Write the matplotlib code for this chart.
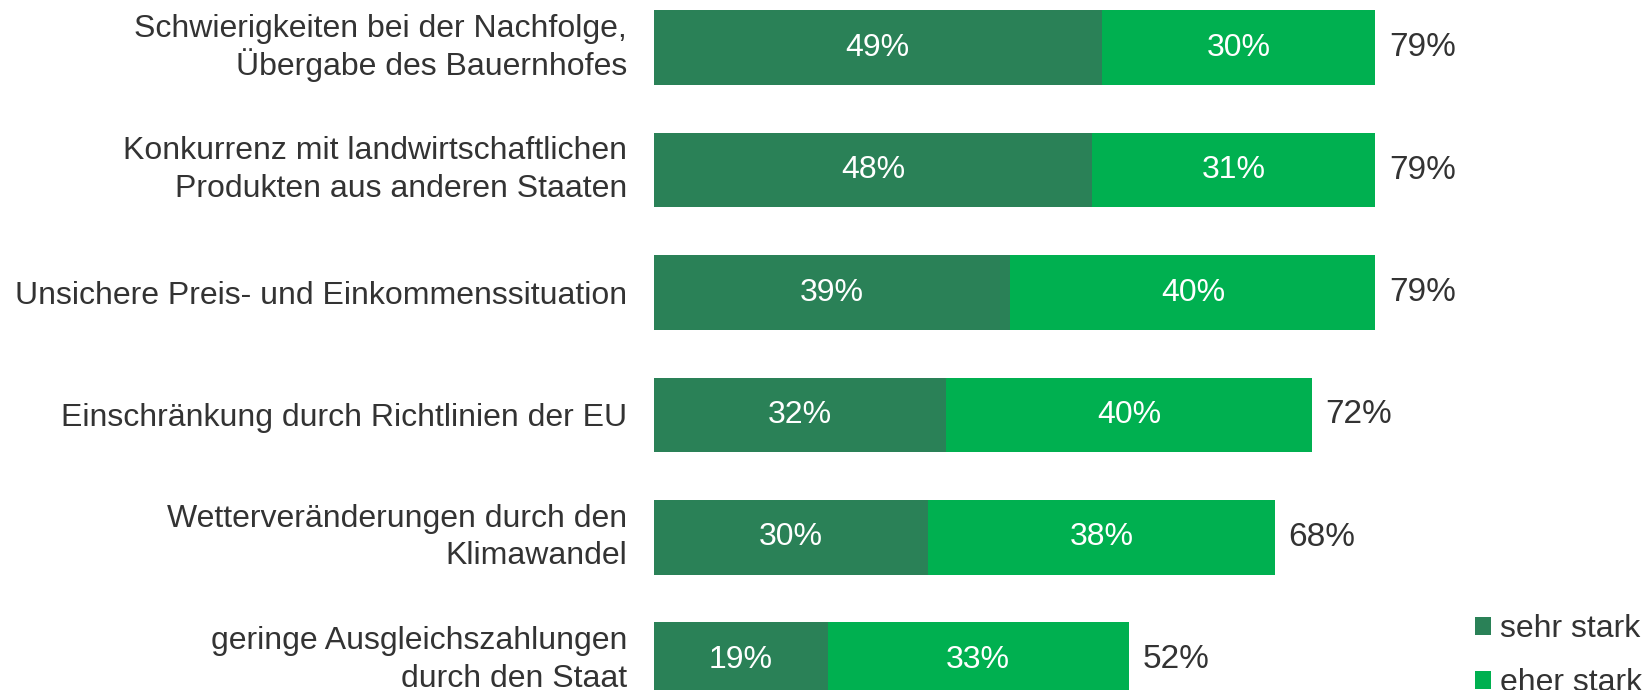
import matplotlib.pyplot as plt
from matplotlib.patches import Patch

categories = [
    "Schwierigkeiten bei der Nachfolge,\nÜbergabe des Bauernhofes",
    "Konkurrenz mit landwirtschaftlichen\nProdukten aus anderen Staaten",
    "Unsichere Preis- und Einkommenssituation",
    "Einschränkung durch Richtlinien der EU",
    "Wetterveränderungen durch den\nKlimawandel",
    "geringe Ausgleichszahlungen\ndurch den Staat",
]
sehr_stark = [49, 48, 39, 32, 30, 19]
eher_stark = [30, 31, 40, 40, 38, 33]
totals = [79, 79, 79, 72, 68, 52]
series_names = ["sehr stark", "eher stark"]

dark_green = '#2a8157'
light_green = '#00b050'
text_color = '#333333'

plt.rcParams['font.family'] = ['Liberation Sans', 'DejaVu Sans']

fig = plt.figure(figsize=(16.44, 6.9), dpi=100)
ax = fig.add_axes([654 / 1644, 0, 990 / 1644, 1])

ys = list(range(len(categories)))
h = 0.61
ax.barh(ys, sehr_stark, height=h, color=dark_green, edgecolor='none')
ax.barh(ys, eher_stark, left=sehr_stark, height=h, color=light_green, edgecolor='none')

for y, a, b, t in zip(ys, sehr_stark, eher_stark, totals):
    ax.text(a / 2, y, f"{a}%", color='white', fontsize=23, ha='center', va='center')
    ax.text(a + b / 2, y, f"{b}%", color='white', fontsize=23, ha='center', va='center')
    ax.text(t + 1.5, y, f"{t}%", color=text_color, fontsize=24, ha='left', va='center')

# category labels, one line at a time so the line gap stays fixed
line_gap = 37.7   # px
cap_half = 11.5   # px, half the cap height
for y, cat in zip(ys, categories):
    lines = cat.split('\n')
    n = len(lines)
    shift = 3.5 if n > 1 else 0
    for k, line in enumerate(lines):
        down = (k - (n - 1) / 2) * line_gap - shift + cap_half
        ax.annotate(line, xy=(0, y), xycoords=('axes fraction', 'data'),
                    xytext=(-27, -down), textcoords='offset pixels',
                    ha='right', va='baseline', fontsize=23, color=text_color,
                    annotation_clip=False)

ax.set_xlim(0, 108.4)
ax.set_ylim(5.247, -0.39)
ax.set_yticks([])
ax.set_xticks([])
for s in ax.spines.values():
    s.set_visible(False)

handles = [Patch(facecolor=dark_green, label=series_names[0]),
           Patch(facecolor=light_green, label=series_names[1])]
fig.legend(handles=handles, loc='lower right', bbox_to_anchor=(1.003, -0.021),
           frameon=False, fontsize=23, handlelength=0.5, handleheight=0.5,
           handletextpad=0.3, labelspacing=0.75, labelcolor=text_color,
           borderaxespad=0, borderpad=0.2)

fig.savefig('out.png', dpi=100)
